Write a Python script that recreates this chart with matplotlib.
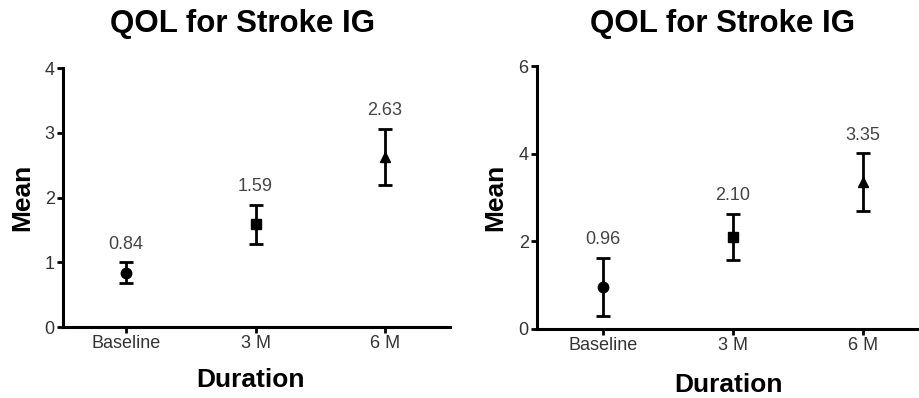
import matplotlib
matplotlib.use("Agg")
import matplotlib.pyplot as plt

# QOL means and error bars for the three time points
durations = ["Baseline", "3 M", "6 M"]
markers = ["o", "s", "^"]

left_means = [0.84, 1.59, 2.63]
left_err = [0.16, 0.30, 0.43]

right_means = [0.96, 2.10, 3.35]
right_err = [0.67, 0.53, 0.66]

plt.rcParams["font.family"] = ["Liberation Sans", "DejaVu Sans"]
tick_color = "#333333"


def draw_panel(ax, means, errs, ymax, yticks, xlim):
    x = range(len(means))
    for i in x:
        ax.errorbar(i, means[i], yerr=errs[i], fmt=markers[i], color="black",
                    markersize=7.5, elinewidth=2, capsize=5, capthick=2)
        ax.annotate("%.2f" % means[i], xy=(i, means[i] + errs[i]),
                    xytext=(0, 7), textcoords="offset points",
                    ha="center", va="bottom", fontsize=13, color="#454545")
    ax.set_xlim(*xlim)
    ax.set_ylim(0, ymax)
    ax.set_yticks(yticks)
    ax.set_xticks(list(x))
    ax.set_xticklabels(durations)
    for side in ("top", "right"):
        ax.spines[side].set_visible(False)
    for side in ("left", "bottom"):
        ax.spines[side].set_linewidth(2.2)
    ax.tick_params(width=2, length=4, labelsize=13, colors=tick_color, pad=2)
    ax.tick_params(axis="both", color="black")


fig = plt.figure(figsize=(9.2, 3.98), dpi=100)

ax1 = fig.add_axes([0.0685, 0.178, 0.4207, 0.651])
draw_panel(ax1, left_means, left_err, 4, [0, 1, 2, 3, 4], (-0.486, 2.502))

ax2 = fig.add_axes([0.5837, 0.1734, 0.4163, 0.6606])
draw_panel(ax2, right_means, right_err, 6, [0, 2, 4, 6], (-0.508, 2.438))

W, H = 920, 398
def put(x, y, s, **kw):
    fig.text(x / W, 1 - y / H, s, ha="center", va="center", fontweight="bold", **kw)

put(243, 24, "QOL for Stroke IG", fontsize=22.5)
put(723, 24, "QOL for Stroke IG", fontsize=22.5)
put(22, 197, "Mean", fontsize=19, rotation=90)
put(495, 197, "Mean", fontsize=19, rotation=90)
put(251, 380, "Duration", fontsize=19)
put(729, 385, "Duration", fontsize=19)

fig.savefig("out.png", dpi=100)
